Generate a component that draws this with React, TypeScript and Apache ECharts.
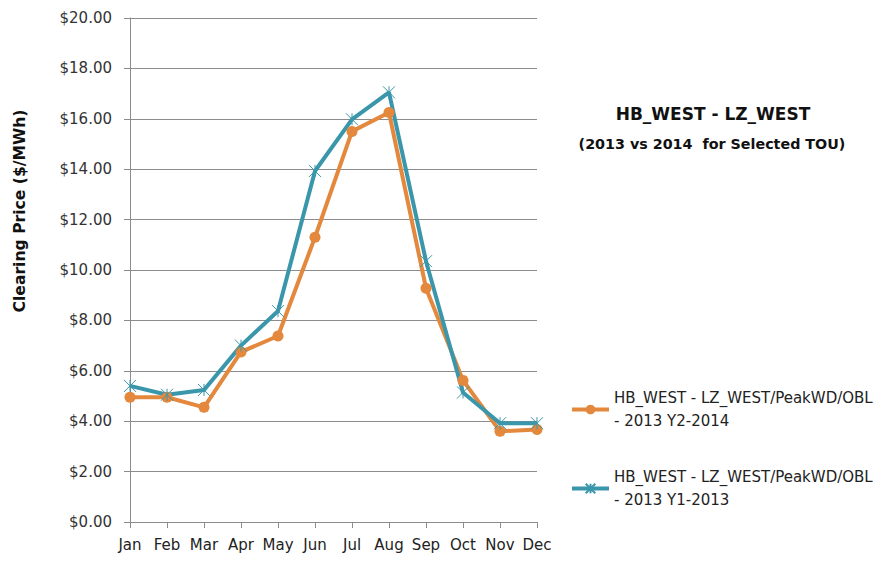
import React, { useEffect, useRef } from "react";
import * as echarts from "echarts";

const months = ["Jan", "Feb", "Mar", "Apr", "May", "Jun", "Jul", "Aug", "Sep", "Oct", "Nov", "Dec"];
const seriesNames = [
  "HB_WEST - LZ_WEST/PeakWD/OBL - 2013 Y2-2014",
  "HB_WEST - LZ_WEST/PeakWD/OBL - 2013 Y1-2013",
];
const values2014 = [4.95, 4.95, 4.55, 6.75, 7.38, 11.3, 15.5, 16.25, 9.28, 5.62, 3.6, 3.67];
const values2013 = [5.4, 5.05, 5.24, 7.0, 8.37, 13.93, 15.98, 17.05, 10.35, 5.14, 3.92, 3.92];
const titleLines = ["HB_WEST - LZ_WEST", "(2013 vs 2014  for Selected TOU)"];
const yAxisTitle = "Clearing Price ($/MWh)";

const ORANGE = "#E3883C";
const BLUE = "#3A96AA";
const FONT = "DejaVu Sans";

export default function App() {
  const ref = useRef<HTMLDivElement>(null);
  useEffect(() => {
    document.body.style.margin = "0";
    if (!ref.current) return;
    const chart = echarts.init(ref.current, undefined, { renderer: "svg" });
    chart.setOption({
      animation: false,
      backgroundColor: "#fff",
      textStyle: { fontFamily: FONT },
      grid: { left: 130, right: 357, top: 18, bottom: 41 },
      xAxis: {
        type: "category",
        data: months,
        boundaryGap: false,
        axisLine: { lineStyle: { color: "#8c8c8c", width: 1 } },
        axisTick: { show: true, length: 6, lineStyle: { color: "#8c8c8c" } },
        axisLabel: { color: "#222", fontSize: 15, margin: 15, interval: 0, fontFamily: FONT },
      },
      yAxis: {
        type: "value",
        min: 0,
        max: 20,
        interval: 2,
        axisLine: { show: true, lineStyle: { color: "#8c8c8c", width: 1 } },
        axisTick: { show: true, length: 6, lineStyle: { color: "#8c8c8c" } },
        splitLine: { lineStyle: { color: "#8c8c8c", width: 1 } },
        axisLabel: {
          color: "#333",
          fontSize: 15,
          margin: 18,
          fontFamily: FONT,
          formatter: (v: number) => "$" + v.toFixed(2),
        },
      },
      legend: {
        orient: "vertical",
        left: 570,
        top: 375,
        padding: 0,
        itemWidth: 37,
        itemHeight: 12,
        itemGap: 10,
        data: seriesNames,
        lineStyle: { width: 4 },
        formatter: (name: string) => name.replace(" - 2013", "\n- 2013"),
        textStyle: {
          fontSize: 15,
          color: "#222",
          fontFamily: FONT,
          lineHeight: 23,
          padding: [23, 0, 0, 0],
        },
      },
      graphic: [
        {
          type: "text",
          x: 713,
          y: 114,
          style: {
            text: titleLines[0],
            fontSize: 17,
            fontWeight: "bold",
            fontFamily: FONT,
            fill: "#111",
            textAlign: "center",
            textVerticalAlign: "middle",
          },
        },
        {
          type: "text",
          x: 712,
          y: 144,
          style: {
            text: titleLines[1],
            fontSize: 14.3,
            fontWeight: "bold",
            fontFamily: FONT,
            fill: "#111",
            textAlign: "center",
            textVerticalAlign: "middle",
          },
        },
        {
          type: "text",
          x: 20,
          y: 211,
          rotation: Math.PI / 2,
          style: {
            text: yAxisTitle,
            fontSize: 15.6,
            fontWeight: "bold",
            fontFamily: FONT,
            fill: "#111",
            textAlign: "center",
            textVerticalAlign: "middle",
          },
        },
      ],
      series: [
        {
          name: seriesNames[0],
          type: "line",
          data: values2014,
          symbol: "circle",
          symbolSize: 11,
          lineStyle: { color: ORANGE, width: 4 },
          itemStyle: { color: ORANGE },
        },
        {
          name: seriesNames[1],
          type: "line",
          data: values2013,
          symbol: "path://M0,0L10,10M10,0L0,10M5,0L5,10",
          symbolSize: 12,
          lineStyle: { color: BLUE, width: 4 },
          itemStyle: { color: BLUE, borderColor: BLUE, borderWidth: 1 },
        },
      ],
    });
    return () => chart.dispose();
  }, []);
  return <div ref={ref} style={{ width: 894, height: 563 }} />;
}
